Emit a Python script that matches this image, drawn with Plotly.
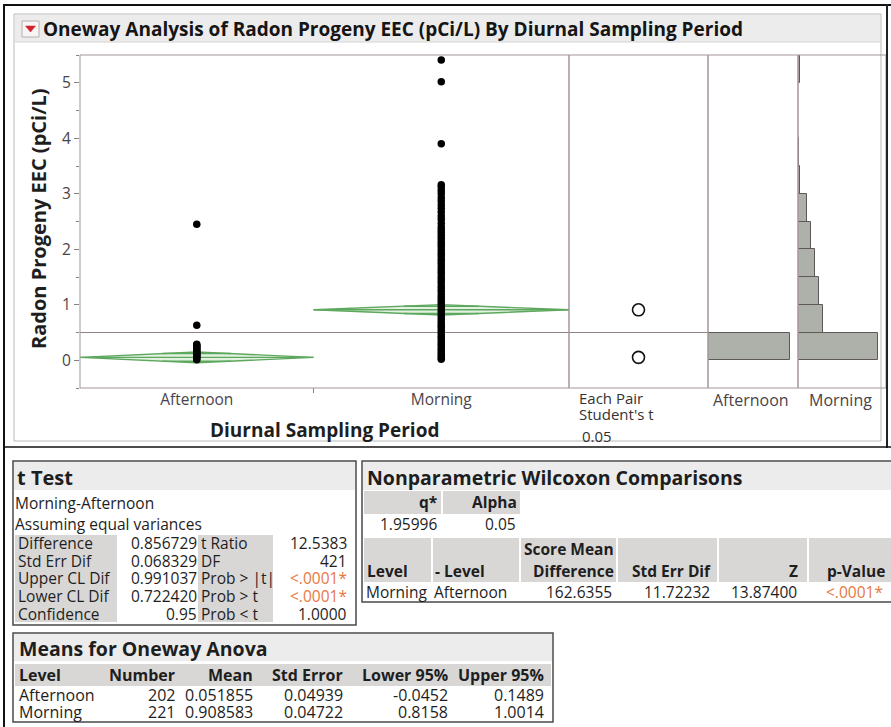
import plotly.graph_objects as go

W, H = 891, 727
FONT = "Open Sans"

# ---- summary data -------------------------------------------------------
groups = ["Afternoon", "Morning"]
group_n = [202, 221]
group_mean = [0.051855, 0.908583]
group_se = [0.04939, 0.04722]
group_lower = [-0.0452, 0.8158]
group_upper = [0.1489, 1.0014]

# observed EEC values (pCi/L) shown as points in each group
afternoon_vals = [0.01, 0.03, 0.05, 0.07, 0.09, 0.11, 0.13, 0.15, 0.17,
                  0.19, 0.21, 0.23, 0.25, 0.27, 0.29, 0.63, 2.45]
morning_vals = [0.02, 0.05, 0.09, 0.13, 0.17, 0.21, 0.26, 0.3, 0.35, 0.4,
                0.44, 0.49, 0.54, 0.59, 0.63, 0.68, 0.73, 0.78, 0.83, 0.88,
                0.93, 0.98, 1.03, 1.08, 1.13, 1.18, 1.24, 1.29, 1.34, 1.4,
                1.45, 1.5, 1.56, 1.61, 1.66, 1.72, 1.77, 1.82, 1.88, 1.93,
                1.98, 2.04, 2.09, 2.14, 2.2, 2.25, 2.3, 2.35, 2.4, 2.47,
                2.54, 2.6, 2.67, 2.74, 2.8, 2.87, 2.93, 3.0, 3.06, 3.12,
                3.16, 3.9, 5.02, 5.41]

# histogram counts per 0.5 pCi/L bin
hist_bin_lo = [0.0, 0.5, 1.0, 1.5, 2.0, 2.5, 3.0, 3.5, 4.0, 4.5, 5.0]
hist_afternoon = [200, 1, 0, 0, 1, 0, 0, 0, 0, 0, 0]
hist_morning = [104, 33, 27, 22, 17, 12, 3, 1, 0, 0, 2]
hist_width = 0.5

y_ticks = [0, 1, 2, 3, 4, 5]

# t Test table
tt_contrast = "Morning-Afternoon"
tt_note = "Assuming equal variances"
tt_labels_a = ["Difference", "Std Err Dif", "Upper CL Dif", "Lower CL Dif", "Confidence"]
tt_values_a = ["0.856729", "0.068329", "0.991037", "0.722420", "0.95"]
tt_labels_b = ["t Ratio", "DF", "Prob > |t|", "Prob > t", "Prob < t"]
tt_values_b = ["12.5383", "421", "<.0001*", "<.0001*", "1.0000"]

# Wilcoxon table
wx_q = "1.95996"
wx_alpha = "0.05"
wx_row = ["Morning", "Afternoon", "162.6355", "11.72232", "13.87400", "<.0001*"]

# Means table
mn_header = ["Level", "Number", "Mean", "Std Error", "Lower 95%", "Upper 95%"]
mn_number = ["202", "221"]
mn_mean = ["0.051855", "0.908583"]
mn_se = ["0.04939", "0.04722"]
mn_lower = ["-0.0452", "0.8158"]
mn_upper = ["0.1489", "1.0014"]

# ---- helpers ---------------------------------------------------------------
def fx(x):
    return x / W


def fy(y):
    return 1 - y / H


shapes = []
annotations = []
TS = 15.5  # table text size


def rect(x0, y0, x1, y1, fill="rgba(0,0,0,0)", line="rgba(0,0,0,0)", lw=1, layer="below"):
    shapes.append(dict(type="rect", xref="paper", yref="paper",
                       x0=fx(x0), x1=fx(x1), y0=fy(y1), y1=fy(y0),
                       fillcolor=fill, line=dict(color=line, width=lw), layer=layer))


def hline(x0, x1, y, color="#000", lw=1, layer="above"):
    shapes.append(dict(type="line", xref="paper", yref="paper",
                       x0=fx(x0), x1=fx(x1), y0=fy(y), y1=fy(y),
                       line=dict(color=color, width=lw), layer=layer))


def vline(x, y0, y1, color="#000", lw=1, layer="above"):
    shapes.append(dict(type="line", xref="paper", yref="paper",
                       x0=fx(x), x1=fx(x), y0=fy(y0), y1=fy(y1),
                       line=dict(color=color, width=lw), layer=layer))


def text(x, y, s, size=TS, color="#1e1e1e", anchor="left", bold=False, angle=0):
    annotations.append(dict(x=fx(x), y=fy(y), xref="paper", yref="paper",
                            text=f"<b>{s}</b>" if bold else s, showarrow=False,
                            xanchor=anchor, yanchor="middle", textangle=angle,
                            borderpad=0,
                            font=dict(size=size, color=color, family=FONT)))


def val_color(s):
    return "#e8783e" if s.startswith("<") else "#1e1e1e"


# ---- plot geometry (pixels) ------------------------------------------------
MAIN_X = (80, 569)
PAIR_X = (569, 708)
HA_X = (708, 798)
HM_X = (798, 886)
PLOT_Y = (55, 388)
Y_RANGE = [-0.5, 5.5]
FRAME = "#a3959b"
GREEN = "#5ea75e"

edges = [0, group_n[0], group_n[0] + group_n[1]]
centers = [(edges[i] + edges[i + 1]) / 2 for i in range(2)]
grand_mean = sum(n * m for n, m in zip(group_n, group_mean)) / sum(group_n)

fig = go.Figure()

# means diamonds with mean line and overlap marks
for i in range(2):
    left, right, c = edges[i], edges[i + 1], centers[i]
    m, lo, hi = group_mean[i], group_lower[i], group_upper[i]
    fig.add_trace(go.Scatter(
        x=[left, c, right, c, left], y=[m, hi, m, lo, m],
        mode="lines", fill="toself", fillcolor="rgba(175,215,170,0.35)",
        line=dict(color=GREEN, width=1.4), hoverinfo="skip",
        xaxis="x", yaxis="y", showlegend=False))
    fig.add_trace(go.Scatter(
        x=[left, right], y=[m, m], mode="lines",
        line=dict(color=GREEN, width=1.4), hoverinfo="skip",
        xaxis="x", yaxis="y", showlegend=False))
    half = (hi - m) / 2 ** 0.5
    hw = (right - left) / 2 * (1 - 1 / 2 ** 0.5)
    for yy in (m + half, m - half):
        fig.add_trace(go.Scatter(
            x=[c - hw, c + hw], y=[yy, yy], mode="lines",
            line=dict(color=GREEN, width=1.4), hoverinfo="skip",
            xaxis="x", yaxis="y", showlegend=False))

# observed points
for vals, c in ((afternoon_vals, centers[0]), (morning_vals, centers[1])):
    fig.add_trace(go.Scatter(
        x=[c] * len(vals), y=vals, mode="markers",
        marker=dict(color="#000000", size=7.5, line=dict(width=0)),
        xaxis="x", yaxis="y", showlegend=False, hoverinfo="y"))

# comparison circles
fig.add_trace(go.Scatter(
    x=[0.5, 0.5], y=group_mean, mode="markers",
    marker=dict(symbol="circle-open", size=12, color="#111111", line=dict(width=1.6)),
    xaxis="x2", yaxis="y2", showlegend=False, hoverinfo="y"))

# histograms
bin_mid = [b + hist_width / 2 for b in hist_bin_lo]
for counts, xa, ya in ((hist_afternoon, "x3", "y3"), (hist_morning, "x4", "y4")):
    fig.add_trace(go.Bar(
        x=counts, y=bin_mid, orientation="h", width=hist_width, base=0,
        marker=dict(color="#aeb1a9", line=dict(color="#5e585b", width=1)),
        xaxis=xa, yaxis=ya, showlegend=False, hoverinfo="x"))

ydom = [fy(PLOT_Y[1]), fy(PLOT_Y[0])]


def xdom(r):
    return [fx(r[0]), fx(r[1])]


axis_hidden = dict(showgrid=False, zeroline=False, showticklabels=False, ticks="", showline=False)

fig.update_layout(
    width=W, height=H, margin=dict(l=0, r=0, t=0, b=0),
    paper_bgcolor="#ffffff", plot_bgcolor="rgba(0,0,0,0)",
    bargap=0, showlegend=False,
    xaxis=dict(domain=xdom(MAIN_X), range=[0, edges[2]], tickvals=centers, ticktext=groups,
               ticks="", showgrid=False, zeroline=False, showline=False,
               tickfont=dict(size=15.5, color="#4a4448", family=FONT), anchor="y"),
    yaxis=dict(domain=ydom, range=Y_RANGE, tickvals=y_ticks, ticks="outside", ticklen=5,
               tickcolor="#8b8086", showgrid=False, zeroline=False, showline=False,
               tickfont=dict(size=15.5, color="#4a4448", family=FONT), anchor="x",
               minor=dict(ticks="outside", ticklen=3, tickcolor="#8b8086", dtick=0.5, showgrid=False)),
    xaxis2=dict(domain=xdom(PAIR_X), range=[0, 1], anchor="y2", **axis_hidden),
    yaxis2=dict(domain=ydom, range=Y_RANGE, anchor="x2", **axis_hidden),
    xaxis3=dict(domain=xdom(HA_X), range=[0, hist_afternoon[0] * 90 / 82], anchor="y3", **axis_hidden),
    yaxis3=dict(domain=ydom, range=Y_RANGE, anchor="x3", **axis_hidden),
    xaxis4=dict(domain=xdom(HM_X), range=[0, hist_morning[0] * 88 / 80], anchor="y4", **axis_hidden),
    yaxis4=dict(domain=ydom, range=Y_RANGE, anchor="x4", **axis_hidden),
)

# grand mean reference line across the plot and comparison panel
shapes.append(dict(type="line", xref="paper", yref="y", x0=fx(MAIN_X[0]), x1=fx(PAIR_X[1]),
                   y0=grand_mean, y1=grand_mean, line=dict(color="#8e8388", width=1), layer="below"))
# tick between the two groups
shapes.append(dict(type="line", xref="x", yref="paper", x0=edges[1], x1=edges[1],
                   y0=fy(PLOT_Y[1]), y1=fy(PLOT_Y[1] + 5), line=dict(color="#8b8086", width=1)))

# panel frames
for r in (MAIN_X, PAIR_X, HA_X, HM_X):
    rect(r[0], PLOT_Y[0], r[1], PLOT_Y[1], line=FRAME, lw=1, layer="above")

# ---- report frames -----------------------------------------------------------
hline(4, 891, 5, "#111", 2)
vline(4, 4, 727, "#111", 2)
vline(887, 4, 448, "#222", 2)
hline(4, 891, 447, "#111", 1.5)
rect(14, 14, 881, 441, line="#b9b9b9", lw=1)
rect(15, 15, 880, 42, fill="#ececec")
hline(15, 880, 42, "#d4d4d4", 1, "below")

# disclosure icon and title
rect(22, 21, 39, 37, fill="#f7f5f5", line="#b8b0b0", lw=1, layer="above")
shapes.append(dict(type="path", xref="paper", yref="paper",
                   path=f"M {fx(25.5)} {fy(26)} L {fx(35.5)} {fy(26)} L {fx(30.5)} {fy(32)} Z",
                   fillcolor="#d1242c", line=dict(color="#d1242c", width=0.5), layer="above"))
text(42, 29, "Oneway Analysis of Radon Progeny EEC (pCi/L) By Diurnal Sampling Period",
     size=19, bold=True, color="#151515")

# axis titles and panel captions
text(38, 219, "Radon Progeny EEC (pCi/L)", size=20, bold=True, angle=-90, anchor="center")
text(324, 430, "Diurnal Sampling Period", size=19, bold=True, anchor="center")
text(578, 398, "Each Pair", size=15, color="#333")
text(578, 414, "Student's t", size=15, color="#333")
text(581, 436, "0.05", size=15, color="#333")
text(751, 400, groups[0], size=16, color="#4a4448", anchor="center")
text(840, 400, groups[1], size=16, color="#4a4448", anchor="center")

# ---- t Test box ---------------------------------------------------------------
rect(13, 461, 356, 625, fill="#ffffff", line="#4a4a4a", lw=1.5)
rect(14, 462, 355, 490, fill="#ececec")
text(16, 477, "t Test", size=20, bold=True)
text(14, 503, tt_contrast)
text(14, 524, tt_note)
rect(15, 535, 117, 622, fill="#d9d7d6")
rect(198, 535, 273, 622, fill="#d9d7d6")
for k in range(5):
    yy = 543 + k * 17.7
    text(17, yy, tt_labels_a[k])
    text(198, yy, tt_values_a[k], anchor="right", color=val_color(tt_values_a[k]))
    text(200, yy, tt_labels_b[k])
    text(348, yy, tt_values_b[k], anchor="right", color=val_color(tt_values_b[k]))

# ---- Wilcoxon box -------------------------------------------------------------
rect(362, 461, 893, 602, fill="#ffffff", line="#4a4a4a", lw=1.5)
rect(363, 462, 891, 490, fill="#ececec")
text(366, 477, "Nonparametric Wilcoxon Comparisons", size=19.5, bold=True)
rect(364, 491, 441, 514, fill="#d9d7d6")
rect(443, 491, 520, 514, fill="#d9d7d6")
text(438, 502, "q*", bold=True, anchor="right")
text(518, 502, "Alpha", bold=True, anchor="right")
text(438, 524, wx_q, anchor="right")
text(517, 524, wx_alpha, anchor="right")
for a, b in ((364, 431), (433, 519), (521, 616), (618, 717), (719, 807), (809, 891)):
    rect(a, 538, b, 582, fill="#d9d7d6")
text(615, 549, "Score Mean", bold=True, anchor="right")
text(366, 571, "Level", bold=True)
text(434, 571, "- Level", bold=True)
text(615, 571, "Difference", bold=True, anchor="right")
text(712, 571, "Std Err Dif", bold=True, anchor="right")
text(799, 571, "Z", bold=True, anchor="right")
text(886, 571, "p-Value", bold=True, anchor="right")
text(365, 592, wx_row[0])
text(433, 592, wx_row[1])
for s, xr in zip(wx_row[2:], (613, 711, 798, 884)):
    text(xr, 592, s, anchor="right", color=val_color(s))

# ---- Means box ----------------------------------------------------------------
rect(13, 633, 553, 722, fill="#ffffff", line="#4a4a4a", lw=1.5)
rect(14, 634, 552, 661, fill="#ececec")
text(18, 648, "Means for Oneway Anova", size=19.5, bold=True)
rect(15, 664, 551, 686, fill="#d9d7d6")
text(18, 675, mn_header[0], size=16, bold=True)
for h, xr in zip(mn_header[1:], (176, 254, 344, 449, 545)):
    text(xr, 675, h, size=16, bold=True, anchor="right")
for k in range(2):
    yy = 695 + k * 17
    text(18, yy, groups[k], size=16)
    for s, xr in zip((mn_number[k], mn_mean[k], mn_se[k], mn_lower[k], mn_upper[k]),
                     (176, 254, 344, 449, 545)):
        text(xr, yy, s, size=16, anchor="right")

fig.update_layout(shapes=shapes, annotations=annotations)
fig.write_html("out.html")
